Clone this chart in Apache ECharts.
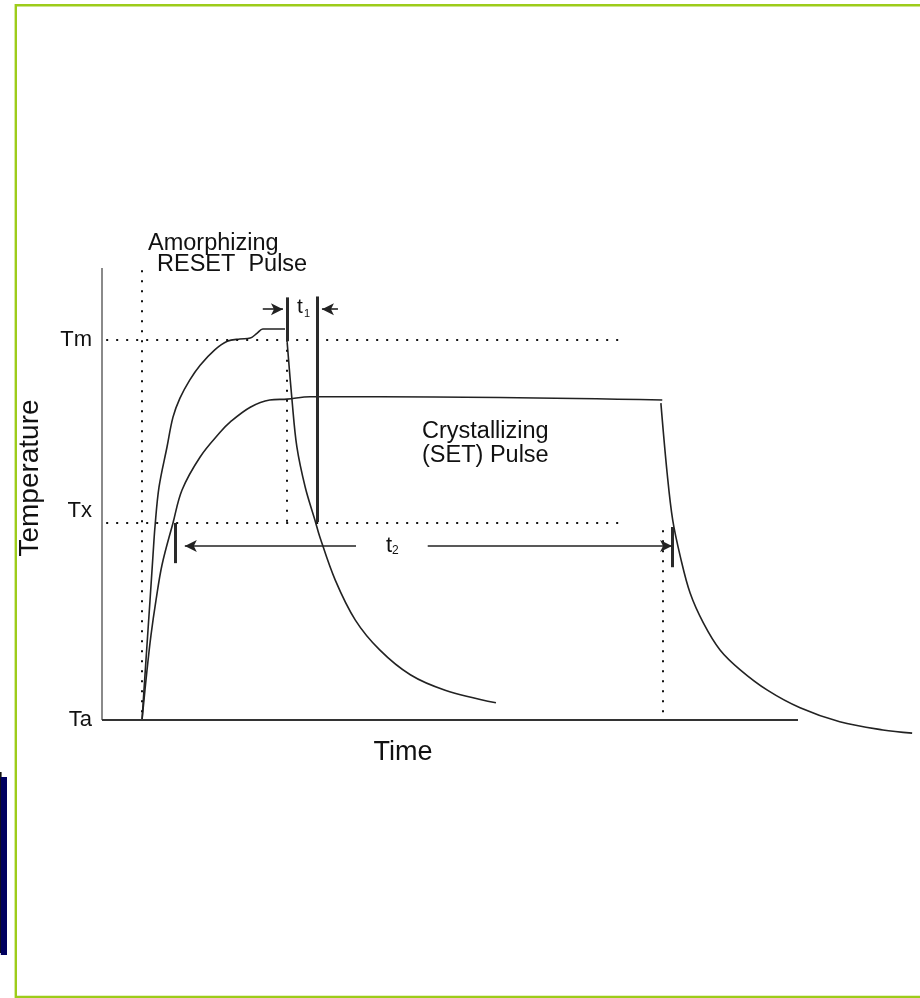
<!DOCTYPE html>
<html>
<head>
<meta charset="utf-8">
<script src="https://cdn.jsdelivr.net/npm/echarts@6/dist/echarts.min.js"></script>
<style>
html,body{margin:0;padding:0;background:#fff;}
#chart{width:920px;height:998px;}
</style>
</head>
<body>
<div id="chart"></div>
<script>
// ---- data (time: arbitrary units, temperature: arbitrary units) ----
const T_AMBIENT = 0;
const T_CRYST = 43.6;
const T_MELT = 84.1;
const yTickValues = [T_AMBIENT, T_CRYST, T_MELT];
const yTickLabels = ['Ta', 'Tx', 'Tm'];

// RESET (amorphizing) pulse: rise + plateau, then quench
const resetRise = [[5.75,0],[6.32,13.3],[6.9,26.5],[7.33,36.5],[7.61,42.7],[8.19,51.5],[9.34,60.4],[10.2,67.0],[11.2,71.2],[12.6,75.2],[14.1,78.5],[16.2,81.9],[18.0,83.8],[19.8,84.3],[21.3,84.5],[22.3,85.6],[23.1,86.5],[26.3,86.5]];
const resetFall = [[26.6,83.6],[27.3,70.8],[28.0,60.4],[29.2,51.5],[30.6,44.2],[31.3,40.5],[33.5,31.0],[36.4,22.1],[39.9,15.5],[44.3,10.0],[49.3,6.6],[56.6,3.8]];
// SET (crystallizing) pulse: rise + plateau, then cooling
const setRise = [[5.75,0],[6.47,11.1],[7.04,18.8],[7.76,26.5],[8.62,34.3],[10.2,43.6],[11.5,50.9],[14.1,58.2],[17.0,63.7],[18.4,65.9],[21.3,69.2],[24.1,70.8],[26.6,71.0],[29.9,71.5],[39.9,71.5],[80.5,70.8]];
const setFall = [[80.3,70.1],[81.2,54.6],[82.0,44.2],[83.1,36.1],[84.5,28.1],[86.4,21.5],[88.8,15.5],[91.7,11.1],[95.6,6.6],[100.3,2.7],[106.0,-0.4],[112.2,-2.2],[116.4,-2.9]];

// guide lines (time / temperature)
const timeAxisEnd = 100;
const tempAxisTop = 100;
const pulseStart = 5.75;
const resetEnd = 26.6;
const setEnd = 80.6;
const t1Start = 26.6, t1End = 30.9, t1Top = 93.5;
const t2Start = 10.5, t2End = 82.0;
const t2Level = 38.5, t1Level = 90.9;

const chart = echarts.init(document.getElementById('chart'), null, {renderer:'canvas'});
const FONT = '"Liberation Sans", Arial, Helvetica, sans-serif';
const curveStyle = {color:'#222', width:1.6};

function curve(name, data){
  return {name, type:'line', data, showSymbol:false, symbol:'none', smooth:0.35,
    clip:false, lineStyle:curveStyle, silent:true, animation:false, z:3};
}
function seg(a, b){ return [{coord:a},{coord:b}]; }

const dotted = {type:[2,8], width:2, color:'#111', cap:'butt'};

chart.setOption({
  animation:false,
  grid:{left:102, top:268, right:0, height:474.6},
  xAxis:{type:'value', min:0, max:117.53, axisLine:{show:false},
    axisTick:{show:false}, axisLabel:{show:false}, splitLine:{show:false}},
  yAxis:{type:'value', min:-5, max:100, axisLine:{show:false},
    axisTick:{show:false}, splitLine:{show:false},
    axisLabel:{customValues:yTickValues, margin:10, color:'#111', fontSize:22, fontFamily:FONT,
      formatter:function(v){ const i = yTickValues.indexOf(v); const s = yTickLabels[i] || '';
        return s === 'Tx' ? '{up|' + s + '}' : s; },
      rich:{up:{fontSize:22, fontFamily:FONT, color:'#111', padding:[0,0,24,0]}}}},
  series:[
    {name:'axes', type:'line', data:[], silent:true, animation:false,
      markLine:{silent:true, symbol:['none','none'], label:{show:false}, animation:false,
        data:[
          [{coord:[0,0], lineStyle:{color:'#8a8a8a', width:2, type:'solid'}},{coord:[0,tempAxisTop]}],
          [{coord:[0,0], lineStyle:{color:'#333', width:2, type:'solid'}},{coord:[timeAxisEnd,0]}]
        ]}},
    curve('resetRise', resetRise),
    curve('resetFall', resetFall),
    curve('setRise', setRise),
    curve('setFall', setFall),
    {name:'guides', type:'line', data:[], silent:true, animation:false,
      markLine:{silent:true, symbol:['none','none'], label:{show:false}, lineStyle:dotted, animation:false,
        data:[
          seg([pulseStart,99.5],[pulseStart,T_AMBIENT]),
          seg([0.6,T_MELT],[75.1,T_MELT]),
          seg([0.6,T_CRYST],[74.7,T_CRYST]),
          seg([resetEnd,T_MELT],[resetEnd,T_CRYST]),
          seg([setEnd,42.0],[setEnd,T_AMBIENT])
        ]}},
    {name:'bars', type:'line', data:[], silent:true, animation:false,
      markLine:{silent:true, symbol:['none','none'], label:{show:false}, lineStyle:{color:'#2a2a2a', width:3, type:'solid'}, animation:false,
        data:[
          seg([t1Start,t1Top],[t1Start,83.8]),
          seg([t1End,93.7],[t1End,43.8]),
          seg([t2Start,43.6],[t2Start,34.7]),
          seg([t2End,42.7],[t2End,33.8])
        ]}},
    {name:'arrows', type:'line', data:[], silent:true, animation:false,
      markLine:{silent:true, symbol:['none','arrow'], symbolSize:[9,12], label:{show:false}, lineStyle:{color:'#222', width:1.6, type:'solid'}, animation:false,
        data:[
          seg([23.1,t1Level],[26.0,t1Level]),
          seg([33.9,t1Level],[31.6,t1Level]),
          seg([36.5,t2Level],[11.9,t2Level]),
          seg([46.8,t2Level],[81.9,t2Level])
        ]}}
  ],
  graphic:[
    {type:'rect', shape:{x:15.8, y:5.2, width:1000, height:991.8}, style:{fill:'none', stroke:'#9dcc1a', lineWidth:2.4}, silent:true},
    {type:'rect', shape:{x:0, y:772, width:1.6, height:181}, style:{fill:'#111'}, silent:true},
    {type:'rect', shape:{x:0.8, y:777, width:6.2, height:178}, style:{fill:'#00005f'}, silent:true},
    {type:'text', x:30, y:478, rotation:Math.PI/2, style:{text:'Temperature', font:'28px ' + FONT, fill:'#111', align:'center', verticalAlign:'middle'}, silent:true},
    {type:'text', x:403, y:753, style:{text:'Time', font:'27px ' + FONT, fill:'#111', align:'center', verticalAlign:'middle'}, silent:true},
    {type:'text', x:148, y:244, style:{text:'Amorphizing', font:'23.5px ' + FONT, fill:'#111', align:'left', verticalAlign:'middle'}, silent:true},
    {type:'text', x:157, y:265, style:{text:'RESET  Pulse', font:'23.5px ' + FONT, fill:'#111', align:'left', verticalAlign:'middle'}, silent:true},
    {type:'text', x:422, y:432, style:{text:'Crystallizing', font:'23.5px ' + FONT, fill:'#111', align:'left', verticalAlign:'middle'}, silent:true},
    {type:'text', x:422, y:456, style:{text:'(SET) Pulse', font:'23.5px ' + FONT, fill:'#111', align:'left', verticalAlign:'middle'}, silent:true},
    {type:'text', x:297, y:307, style:{text:'t', font:'21px ' + FONT, fill:'#111', align:'left', verticalAlign:'middle'}, silent:true},
    {type:'text', x:304, y:314, style:{text:'1', font:'11px ' + FONT, fill:'#111', align:'left', verticalAlign:'middle'}, silent:true},
    {type:'text', x:386, y:546, style:{text:'t', font:'22px ' + FONT, fill:'#111', align:'left', verticalAlign:'middle'}, silent:true},
    {type:'text', x:392, y:551, style:{text:'2', font:'12px ' + FONT, fill:'#111', align:'left', verticalAlign:'middle'}, silent:true}
  ]
});
</script>
</body>
</html>
